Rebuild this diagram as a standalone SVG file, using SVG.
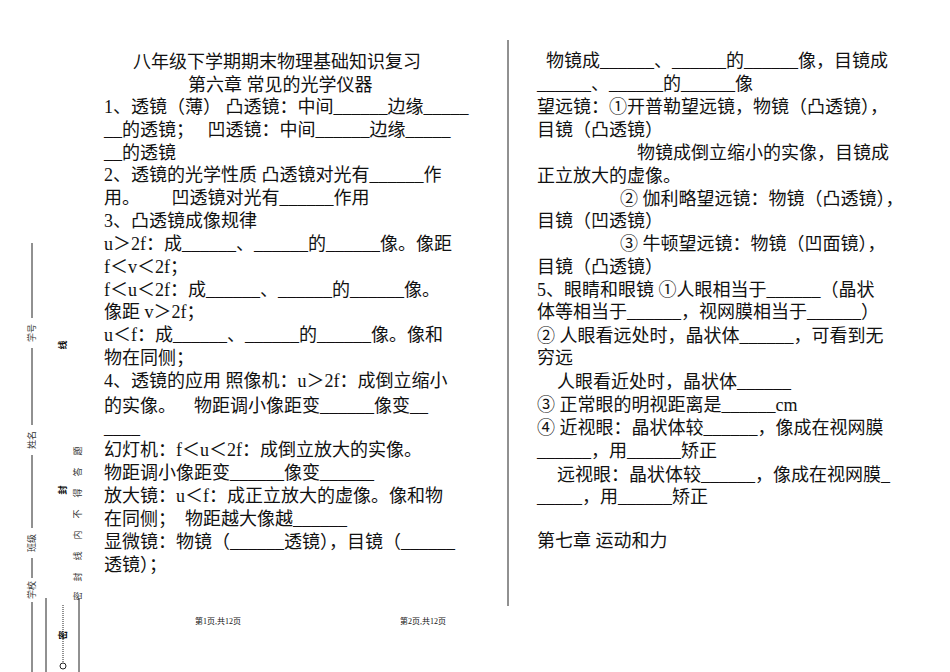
<svg xmlns="http://www.w3.org/2000/svg" width="950" height="672" viewBox="0 0 950 672">
<style>
text{font-family:"Liberation Serif","Noto Sans CJK SC",serif;font-size:18px;fill:#111;white-space:pre}
.s{font-size:8px}
.m{font-size:9px;fill:#333}
.b{font-size:9px;font-weight:bold}
line{stroke:#222;stroke-width:1}
</style>
<rect width="950" height="672" fill="#fff"/>
<g id="left">
<text x="133" y="68">八年级下学期期末物理基础知识复习</text>
<text x="188" y="91">第六章 常见的光学仪器</text>
<text x="104" y="113">1、透镜（薄） 凸透镜：中间______边缘_____</text>
<text x="104" y="136">__的透镜；   凹透镜：中间______边缘_____</text>
<text x="104" y="159">__的透镜</text>
<text x="104" y="181">2、透镜的光学性质 凸透镜对光有______作</text>
<text x="104" y="204">用。       凹透镜对光有______作用</text>
<text x="104" y="227">3、凸透镜成像规律</text>
<text x="104" y="250">u＞2f：成______、______的______像。像距</text>
<text x="104" y="273">f＜v＜2f；</text>
<text x="104" y="296">f＜u＜2f：成______、______的______像。</text>
<text x="104" y="318">像距 v＞2f；</text>
<text x="104" y="341">u＜f：成______、______的______像。像和</text>
<text x="104" y="364">物在同侧；</text>
<text x="104" y="387">4、透镜的应用 照像机：u＞2f：成倒立缩小</text>
<text x="104" y="412">的实像。    物距调小像距变______像变__</text>
<text x="104" y="434">____</text>
<text x="104" y="456">幻灯机：f＜u＜2f：成倒立放大的实像。</text>
<text x="104" y="479">物距调小像距变______像变______</text>
<text x="104" y="502">放大镜：u＜f：成正立放大的虚像。像和物</text>
<text x="104" y="525">在同侧；  物距越大像越______</text>
<text x="104" y="548">显微镜：物镜（______透镜），目镜（______</text>
<text x="104" y="571">透镜）；</text>
<text class="s" x="195" y="624">第1页,共12页</text>
<text class="s" x="400" y="624">第2页,共12页</text>
</g>
<g id="divider"><line x1="508" y1="40" x2="508" y2="606" stroke-width="1.5"/></g>
<g id="right">
<text x="546" y="67">物镜成______、______的______像，目镜成</text>
<text x="537" y="90">______、______的______像</text>
<text x="537" y="113">望远镜：①开普勒望远镜，物镜（凸透镜），</text>
<text x="537" y="136">目镜（凸透镜）</text>
<text x="637" y="159">物镜成倒立缩小的实像，目镜成</text>
<text x="537" y="182">正立放大的虚像。</text>
<text x="620" y="205">② 伽利略望远镜：物镜（凸透镜），</text>
<text x="537" y="227">目镜（凹透镜）</text>
<text x="620" y="250">③ 牛顿望远镜：物镜（凹面镜），</text>
<text x="537" y="273">目镜（凸透镜）</text>
<text x="537" y="296">5、眼睛和眼镜 ①人眼相当于______（晶状</text>
<text x="537" y="318">体等相当于______，视网膜相当于______）</text>
<text x="537" y="342">② 人眼看远处时，晶状体______，可看到无</text>
<text x="537" y="364">穷远</text>
<text x="557" y="388">人眼看近处时，晶状体______</text>
<text x="537" y="411">③ 正常眼的明视距离是______cm</text>
<text x="537" y="434">④ 近视眼：晶状体较______，像成在视网膜</text>
<text x="537" y="457">______，用______矫正</text>
<text x="557" y="481">远视眼：晶状体较______，像成在视网膜_</text>
<text x="537" y="503">_____，用______矫正</text>
<text x="537" y="547">第七章 运动和力</text>
</g>
<g id="margin">
<line x1="32" y1="243" x2="32" y2="318"/>
<line x1="32" y1="348" x2="32" y2="425"/>
<line x1="32" y1="455" x2="32" y2="528"/>
<line x1="32" y1="558" x2="32" y2="578"/>
<line x1="32" y1="602" x2="32" y2="672"/>
<text class="m" transform="translate(35,333) rotate(-90)" text-anchor="middle">学号</text>
<text class="m" transform="translate(35,440) rotate(-90)" text-anchor="middle">姓名</text>
<text class="m" transform="translate(35,543) rotate(-90)" text-anchor="middle">班级</text>
<text class="m" transform="translate(35,590) rotate(-90)" text-anchor="middle">学校</text>
<text class="b" transform="translate(66,345) rotate(-90)" text-anchor="middle">线</text>
<text class="b" transform="translate(66,490) rotate(-90)" text-anchor="middle">封</text>
<text class="m" transform="translate(81,508) rotate(-90)" text-anchor="middle" letter-spacing="12">封线内不得答题</text>
<text class="m" transform="translate(81,596) rotate(-90)" text-anchor="middle">密</text>
<line x1="46" y1="598" x2="46" y2="672" stroke-width="1.5"/>
<line x1="79" y1="598" x2="79" y2="672" stroke-width="1.5"/>
<line x1="63" y1="605" x2="63" y2="662" stroke-dasharray="1,1"/>
<text class="b" transform="translate(66,635) rotate(-90)" text-anchor="middle">密</text>
<circle cx="63" cy="666" r="3" fill="#fff" stroke="#222"/>
</g>
</svg>
